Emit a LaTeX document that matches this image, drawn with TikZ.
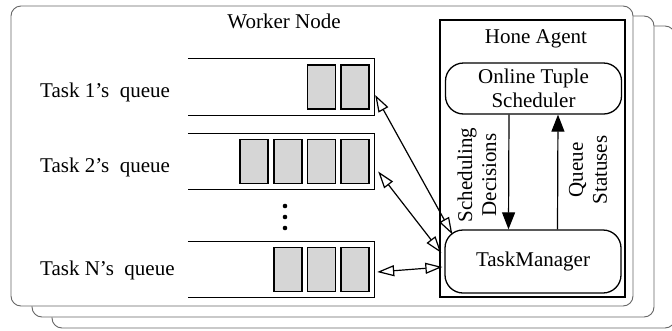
\documentclass[tikz,border=0pt]{standalone}
\usepackage{fontspec}
\setmainfont{Liberation Serif}
\usetikzlibrary{arrows.meta}

\tikzset{
	txt/.style={font=\fontsize{21}{24}\selectfont, inner sep=0pt, align=center},
	frame/.style={draw=black!60, line width=0.9pt, fill=white, rounded corners=10pt},
	module/.style={txt, draw, line width=1.3pt, rounded corners=18pt, minimum width=176pt},
	queue/.style={minimum width=186pt, minimum height=56pt, inner sep=0pt},
	slot/.style={draw, line width=1.5pt, fill=black!16, minimum width=28pt, minimum height=44pt, inner sep=0pt},
	both/.style={line width=1.2pt, {Triangle[open,length=17pt,width=11pt]}-{Triangle[open,length=17pt,width=11pt]}},
	flow/.style={line width=1.2pt, -{Triangle[length=17pt,width=13pt]}}
}

\begin{document}
\begin{tikzpicture}[x=1pt, y=-1pt]
	\useasboundingbox (0,0) rectangle (672,330);

	% stacked worker nodes
	\draw[frame] (52,26) rectangle (675,328);
	\draw[frame] (32,16) rectangle (654,317);
	\draw[frame] (11,6) rectangle (633,306);
	\node[txt, anchor=base] (worker) at (284,28) {Worker Node};

	% hone agent
	\draw[line width=1.4pt] (440,20) rectangle (625,297);
	\node[txt, anchor=base] (agent) at (536,43) {Hone Agent};
	\node[module, minimum height=51pt] (sched) at (533.5,88.5) {Online Tuple\\Scheduler};
	\node[module, minimum height=63pt] (tm) at (533,261.5) {TaskManager};

	\draw[flow] ([xshift=-24.5pt]sched.south) -- ([xshift=-24.5pt]tm.north);
	\draw[flow] ([xshift=24.5pt]tm.north) -- ([xshift=24.5pt]sched.south);
	\node[txt, rotate=90] (decisions) at (477,175) {Scheduling\\Decisions};
	\node[txt, rotate=90] (statuses) at (588,170) {Queue\\Statuses};

	% task queues
	\node[queue] (q1) at (281,87) {};
	\node[queue] (q2) at (281,161.5) {};
	\node[queue] (q3) at (281,269.5) {};
	\foreach \q/\n in {q1/2, q2/4, q3/3} {
		\draw[line width=1.2pt] (\q.north west) -- (\q.north east) -- (\q.south east) -- (\q.south west);
		\foreach \k in {1,...,\n}
			\node[slot] at ([xshift={-19pt-(\k-1)*33.7pt}]\q.east) {};
	}
	\node[txt, anchor=base west] (l1) at (40,97) {Task 1's\ \ queue};
	\node[txt, anchor=base west] (l2) at (40,172) {Task 2's\ \ queue};
	\node[txt, anchor=base west] (l3) at (40,275) {Task N's\ \ queue};
	\foreach \y in {206,217,228}
		\fill (285,\y) circle (2.3pt);

	\draw[both] ([xshift=1pt,yshift=-8pt]q1.east) -- ([xshift=8pt,yshift=-5pt]tm.north west);
	\draw[both] ([xshift=4pt,yshift=-10pt]q2.east) -- ([xshift=-3pt,yshift=8.5pt]tm.west);
	\draw[both] ([xshift=3pt,yshift=-2.5pt]q3.east) -- ([xshift=-2pt,yshift=-5.5pt]tm.west);
\end{tikzpicture}
\end{document}
